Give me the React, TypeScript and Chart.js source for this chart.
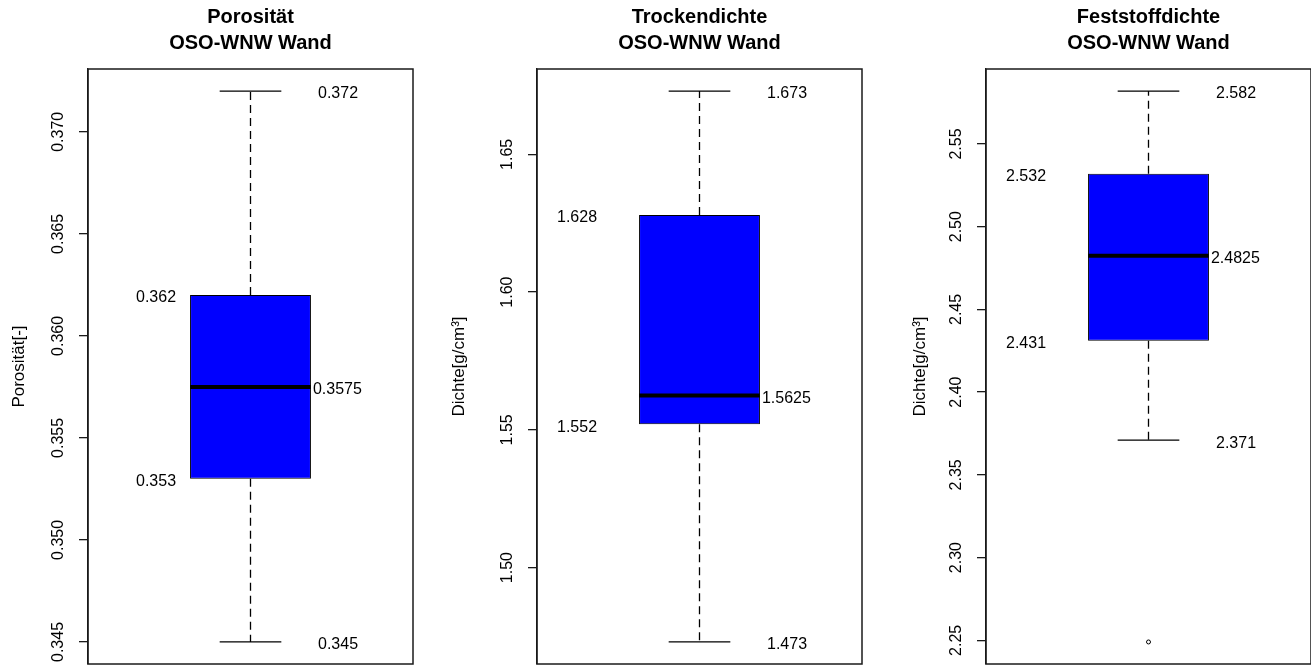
import React, { useEffect, useRef } from "react";
import { Chart, registerables } from "chart.js";

Chart.register(...registerables);

// ---------- data ----------
// Porosität
const porTitle = ["Porosität", "OSO-WNW Wand"];
const porAxisTitle = "Porosität[-]";
const porStats = [0.345, 0.353, 0.3575, 0.362, 0.372]; // min, Q1, median, Q3, max
const porOutliers: number[] = [];
const porTicks = [0.345, 0.35, 0.355, 0.36, 0.365, 0.37];
const porTickLabels = ["0.345", "0.350", "0.355", "0.360", "0.365", "0.370"];

// Trockendichte
const trTitle = ["Trockendichte", "OSO-WNW Wand"];
const trAxisTitle = "Dichte[g/cm³]";
const trStats = [1.473, 1.552, 1.5625, 1.628, 1.673];
const trOutliers: number[] = [];
const trTicks = [1.5, 1.55, 1.6, 1.65];
const trTickLabels = ["1.50", "1.55", "1.60", "1.65"];

// Feststoffdichte
const feTitle = ["Feststoffdichte", "OSO-WNW Wand"];
const feAxisTitle = "Dichte[g/cm³]";
const feStats = [2.371, 2.431, 2.4825, 2.532, 2.582];
const feOutliers: number[] = [2.249];
const feTicks = [2.25, 2.3, 2.35, 2.4, 2.45, 2.5, 2.55];
const feTickLabels = ["2.25", "2.30", "2.35", "2.40", "2.45", "2.50", "2.55"];

// ---------- layout ----------
const PANEL_W = 449;
const PANEL_H = 666;
const PLOT_LEFT = 88;
const PLOT_RIGHT_PAD = 36;
const FONT = "'Liberation Sans', Arial, Helvetica, sans-serif";
const LINE = "#1a1a1a";

Chart.defaults.font.family = FONT;

type PanelDef = {
  title: string[];
  axisTitle: string;
  stats: number[];
  outliers: number[];
  ticks: number[];
  tickLabels: string[];
  leftLabelX: number;
  axisTitlePad: number;
};

const panels: PanelDef[] = [
  { title: porTitle, axisTitle: porAxisTitle, stats: porStats, outliers: porOutliers, ticks: porTicks, tickLabels: porTickLabels, leftLabelX: 136, axisTitlePad: 9.5 },
  { title: trTitle, axisTitle: trAxisTitle, stats: trStats, outliers: trOutliers, ticks: trTicks, tickLabels: trTickLabels, leftLabelX: 108, axisTitlePad: 0.5 },
  { title: feTitle, axisTitle: feAxisTitle, stats: feStats, outliers: feOutliers, ticks: feTicks, tickLabels: feTickLabels, leftLabelX: 108, axisTitlePad: 12.5 },
];

function BoxPanel({ def }: { def: PanelDef }) {
  const ref = useRef<HTMLCanvasElement | null>(null);

  useEffect(() => {
    const canvas = ref.current;
    if (!canvas) return;
    const [mn, q1, med, q3, mx] = def.stats;
    const all = [...def.stats, ...def.outliers];
    const lo = Math.min(...all);
    const hi = Math.max(...all);
    const ext = (hi - lo) * 0.04;

    const boxPlugin = {
      id: "boxExtras",
      afterDatasetsDraw(chart: any) {
        const { ctx, chartArea, scales } = chart;
        const y = scales.y;
        const bar = chart.getDatasetMeta(0).data[0];
        const cx = bar.x;
        const half = bar.width / 2;
        const capHalf = half * 0.51;
        const py = (v: number) => y.getPixelForValue(v);
        ctx.save();
        // whiskers
        ctx.strokeStyle = "#000";
        ctx.lineWidth = 1.3;
        ctx.setLineDash([8, 5]);
        ctx.beginPath();
        ctx.moveTo(cx, py(q3));
        ctx.lineTo(cx, py(mx));
        ctx.moveTo(cx, py(q1));
        ctx.lineTo(cx, py(mn));
        ctx.stroke();
        ctx.setLineDash([]);
        // caps
        ctx.beginPath();
        ctx.moveTo(cx - capHalf, py(mx));
        ctx.lineTo(cx + capHalf, py(mx));
        ctx.moveTo(cx - capHalf, py(mn));
        ctx.lineTo(cx + capHalf, py(mn));
        ctx.stroke();
        // median
        ctx.lineWidth = 4;
        ctx.beginPath();
        ctx.moveTo(cx - half, py(med));
        ctx.lineTo(cx + half, py(med));
        ctx.stroke();
        // tick labels (rotated like R)
        ctx.fillStyle = "#000";
        ctx.font = `16px ${FONT}`;
        ctx.textAlign = "center";
        ctx.textBaseline = "middle";
        y.ticks.forEach((t: any, i: number) => {
          ctx.save();
          ctx.translate(59, py(t.value));
          ctx.rotate(-Math.PI / 2);
          ctx.fillText(def.tickLabels[i] ?? String(t.value), 0, 0);
          ctx.restore();
        });
        // value annotations
        ctx.textAlign = "left";
        const dy = 3;
        ctx.fillText(String(mx), 318, py(mx) + dy);
        ctx.fillText(String(mn), 318, py(mn) + dy);
        ctx.fillText(String(q3), def.leftLabelX, py(q3) + dy);
        ctx.fillText(String(q1), def.leftLabelX, py(q1) + dy);
        ctx.fillText(String(med), cx + half + 2, py(med) + dy);
        // frame
        ctx.lineWidth = 1.5;
        ctx.strokeStyle = LINE;
        ctx.strokeRect(chartArea.left, chartArea.top, chartArea.right - chartArea.left, chartArea.bottom - chartArea.top);
        ctx.restore();
      },
    };

    const chart = new Chart(canvas, {
      type: "bar",
      data: {
        labels: [""],
        datasets: [
          {
            type: "bar",
            data: [[q1, q3]] as any,
            backgroundColor: "#0000FF",
            borderColor: "#000",
            borderWidth: 1,
            borderSkipped: false,
            barPercentage: 0.372,
            categoryPercentage: 1,
          } as any,
          {
            type: "line",
            data: def.outliers.map((v) => ({ x: 0, y: v })) as any,
            showLine: false,
            pointRadius: 2,
            pointBorderWidth: 1,
            pointBackgroundColor: "#fff",
            pointBorderColor: "#000",
            clip: false,
          } as any,
        ],
      },
      options: {
        animation: false,
        responsive: false,
        maintainAspectRatio: false,
        events: [],
        layout: { autoPadding: false, padding: { left: 0, right: PLOT_RIGHT_PAD, top: 0, bottom: 2 } },
        plugins: {
          legend: { display: false },
          tooltip: { enabled: false },
          title: {
            display: true,
            text: def.title,
            color: "#000",
            font: { size: 20, weight: "bold", lineHeight: 1.3 },
            padding: { top: 4, bottom: 13 },
            fullSize: false,
          } as any,
        },
        scales: {
          x: { type: "category", display: false, offset: true },
          y: {
            type: "linear",
            min: lo - ext,
            max: hi + ext,
            afterBuildTicks: (s: any) => {
              s.ticks = def.ticks.map((v) => ({ value: v }));
            },
            afterFit: (s: any) => {
              s.width = PLOT_LEFT;
            },
            ticks: { display: false },
            grid: { drawOnChartArea: false, drawTicks: true, tickLength: 9, color: LINE, lineWidth: 1.3 },
            border: { display: true, color: LINE, width: 1.3 },
            title: {
              display: true,
              text: def.axisTitle,
              color: "#000",
              font: { size: 17 },
              padding: { top: def.axisTitlePad, bottom: 0 },
            },
          },
        },
      } as any,
      plugins: [boxPlugin],
    });
    return () => chart.destroy();
  }, [def]);

  return <canvas ref={ref} width={PANEL_W} height={PANEL_H} style={{ display: "block", width: PANEL_W, height: PANEL_H, flex: "0 0 auto" }} />;
}

export default function App() {
  return (
    <div
      style={{
        position: "fixed",
        left: 0,
        top: 0,
        width: 1311,
        height: 666,
        overflow: "hidden",
        background: "#fff",
        display: "flex",
        flexDirection: "row",
      }}
    >
      {panels.map((p, i) => (
        <BoxPanel key={i} def={p} />
      ))}
    </div>
  );
}
